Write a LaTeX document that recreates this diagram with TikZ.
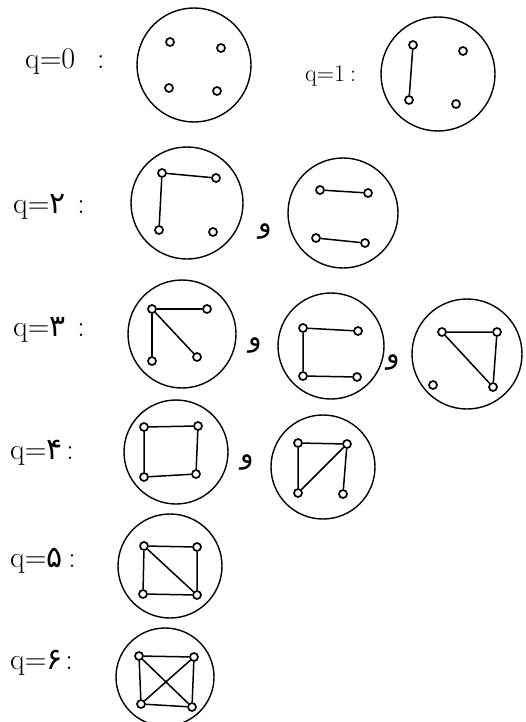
\documentclass[tikz,border=0pt]{standalone}
\usepackage{fontspec}
\newfontfamily\pfont[Script=Arabic]{DejaVu Sans}
\begin{document}
\begin{tikzpicture}[x=1pt,y=-1pt,
  ring/.style={circle, draw, line width=1.4pt, inner sep=0pt},
  vtx/.style={circle, draw, line width=1.7pt, fill=white, inner sep=0pt, minimum size=8pt},
  edg/.style={line width=1.5pt},
  lab/.style={anchor=west, inner sep=0pt, font=\fontsize{30}{32}\selectfont},
  labs/.style={anchor=west, inner sep=0pt, font=\fontsize{24}{26}\selectfont},
  andsym/.style={inner sep=0pt, font=\pfont\fontsize{28}{30}\selectfont}]
\useasboundingbox (0,0) rectangle (526,722);

% q = 0
\node[lab] (l0) at (25,62) {q=0\hspace{22pt}:};
\node[ring, minimum size=114pt] (c0) at (194,65) {};
\node[vtx] (a0) at (170,42) {};
\node[vtx] (b0) at (221,48) {};
\node[vtx] (c0v) at (169,88) {};
\node[vtx] (d0) at (217,91) {};

% q = 1
\node[labs] (l1) at (305,76) {q=1\hspace{5pt}:};
\node[ring, minimum size=114pt] (c1) at (438,74) {};
\node[vtx] (a1) at (413,45) {};
\node[vtx] (b1) at (463,51) {};
\node[vtx] (c1v) at (409,100) {};
\node[vtx] (d1) at (456,104) {};
\draw[edg] (a1) -- (c1v);

% q = 2
\node[lab] (l2) at (13,207) {q={\pfont ۲}\hspace{12pt}:};
\node[ring, minimum size=112pt] (c2a) at (187,203) {};
\node[vtx] (a2) at (162,173) {};
\node[vtx] (b2) at (216,178) {};
\node[vtx] (c2) at (159,230) {};
\node[vtx] (d2) at (213,232) {};
\draw[edg] (c2) -- (a2) -- (b2);
\node[andsym] (w2) at (265,232) {و};
\node[ring, minimum size=110pt] (c2b) at (343,213) {};
\node[vtx] (e2) at (320,190) {};
\node[vtx] (f2) at (368,193) {};
\node[vtx] (g2) at (316,238) {};
\node[vtx] (h2) at (365,243) {};
\draw[edg] (e2) -- (f2);
\draw[edg] (g2) -- (h2);

% q = 3
\node[lab] (l3) at (13,330) {q={\pfont ۳}\hspace{12pt}:};
\node[ring, minimum size=108pt] (c3a) at (182,334) {};
\node[vtx] (a3) at (152,309) {};
\node[vtx] (b3) at (207,309) {};
\node[vtx] (c3) at (152,361) {};
\node[vtx] (d3) at (197,357) {};
\draw[edg] (a3) -- (b3);
\draw[edg] (a3) -- (c3);
\draw[edg] (a3) -- (d3);
\node[andsym] (w3a) at (255,345) {و};
\node[ring, minimum size=106pt] (c3b) at (331,346) {};
\node[vtx] (e3) at (303,328) {};
\node[vtx] (f3) at (358,331) {};
\node[vtx] (g3) at (303,376) {};
\node[vtx] (h3) at (357,377) {};
\draw[edg] (f3) -- (e3) -- (g3) -- (h3);
\node[andsym] (w3b) at (393,362) {و};
\node[ring, minimum size=110pt] (c3c) at (467,354) {};
\node[vtx] (i3) at (442,332) {};
\node[vtx] (j3) at (497,332) {};
\node[vtx] (k3) at (433,385) {};
\node[vtx] (m3) at (493,387) {};
\draw[edg] (i3) -- (j3) -- (m3) -- (i3);

% q = 4
\node[lab] (l4) at (10,453) {q={\pfont ۴}\hspace{4pt}:};
\node[ring, minimum size=104pt] (c4a) at (176,452) {};
\node[vtx] (a4) at (144,427) {};
\node[vtx] (b4) at (198,426) {};
\node[vtx] (c4) at (144,477) {};
\node[vtx] (d4) at (196,474) {};
\draw[edg] (a4) -- (b4) -- (d4) -- (c4) -- (a4);
\node[andsym] (w4) at (247,462) {و};
\node[ring, minimum size=104pt] (c4b) at (323,467) {};
\node[vtx] (e4) at (298,443) {};
\node[vtx] (f4) at (347,444) {};
\node[vtx] (g4) at (298,493) {};
\node[vtx] (h4) at (343,494) {};
\draw[edg] (g4) -- (e4) -- (f4) -- (h4);
\draw[edg] (f4) -- (g4);

% q = 5
\node[lab] (l5) at (10,561) {q={\pfont ۵}\hspace{6pt}:};
\node[ring, minimum size=104pt] (c5) at (170,566) {};
\node[vtx] (a5) at (144,546) {};
\node[vtx] (b5) at (197,547) {};
\node[vtx] (c5v) at (143,594) {};
\node[vtx] (d5) at (197,595) {};
\draw[edg] (a5) -- (b5) -- (d5) -- (c5v) -- (a5);
\draw[edg] (a5) -- (d5);

% q = 6
\node[lab] (l6) at (10,663) {q={\pfont ۶}\hspace{3pt}:};
\node[ring, minimum size=98pt] (c6) at (165,677) {};
\node[vtx] (a6) at (139,656) {};
\node[vtx] (b6) at (194,657) {};
\node[vtx] (c6v) at (141,704) {};
\node[vtx] (d6) at (192,707) {};
\draw[edg] (a6) -- (b6) -- (d6) -- (c6v) -- (a6);
\draw[edg] (a6) -- (d6);
\draw[edg] (b6) -- (c6v);
\end{tikzpicture}
\end{document}
